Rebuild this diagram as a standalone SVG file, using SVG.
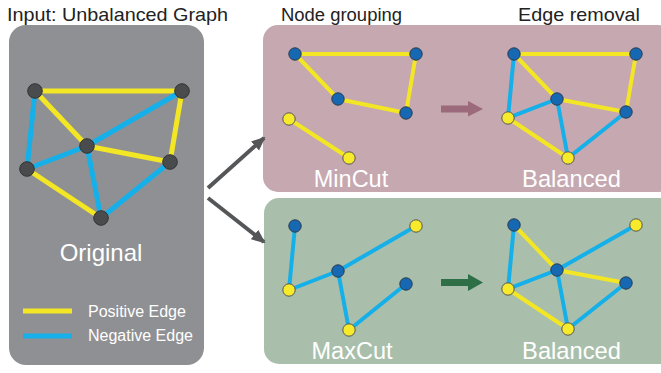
<svg xmlns="http://www.w3.org/2000/svg" width="661" height="373" viewBox="0 0 661 373">
<defs>
<style>
.t{font-family:"Liberation Sans",Arial,sans-serif;fill:#222}
.w{font-family:"Liberation Sans",Arial,sans-serif;fill:#fff}
.py{stroke:#f3e624;stroke-width:4;stroke-linecap:round}
.ny{stroke:#15b0e9;stroke-width:4;stroke-linecap:round}
.py5{stroke:#f3e624;stroke-width:5}
.ny5{stroke:#15b0e9;stroke-width:5}
.og{fill:#4a4b4d;stroke:#333;stroke-width:1}
.nb{fill:#1668b2;stroke:#2b3a4a;stroke-width:1}
.nyl{fill:#f6ea2a;stroke:#555;stroke-width:1}
</style>
<marker id="ah" markerUnits="userSpaceOnUse" markerWidth="14" markerHeight="14" viewBox="0 0 14 14" refX="12" refY="7" orient="auto">
<path d="M0,1 L14,7 L0,13 Z" fill="#555658"/>
</marker>
</defs>
<rect width="661" height="373" fill="#fff"/>

<g id="titles">
<text class="t" x="7" y="21" font-size="18.5" textLength="221" lengthAdjust="spacingAndGlyphs">Input: Unbalanced Graph</text>
<text class="t" x="281" y="21" font-size="17.5" textLength="121" lengthAdjust="spacingAndGlyphs">Node grouping</text>
<text class="t" x="518" y="21" font-size="18.5" textLength="122" lengthAdjust="spacingAndGlyphs">Edge removal</text>
</g>

<g id="panel-original">
<rect x="9" y="25" width="195" height="340" rx="17" fill="#8f9093"/>
<g>
<line class="py5" x1="35" y1="91" x2="182" y2="91"/>
<line class="py5" x1="35" y1="91" x2="87" y2="146"/>
<line class="ny5" x1="35" y1="91" x2="27" y2="169"/>
<line class="ny5" x1="182" y1="91" x2="87" y2="146"/>
<line class="py5" x1="182" y1="91" x2="170" y2="162"/>
<line class="py5" x1="87" y1="146" x2="170" y2="162"/>
<line class="ny5" x1="87" y1="146" x2="27" y2="169"/>
<line class="ny5" x1="87" y1="146" x2="101" y2="218"/>
<line class="py5" x1="27" y1="169" x2="101" y2="218"/>
<line class="ny5" x1="170" y1="162" x2="101" y2="218"/>
</g>
<circle class="og" cx="35" cy="91" r="7.3"/>
<circle class="og" cx="182" cy="91" r="7.3"/>
<circle class="og" cx="87" cy="146" r="7.3"/>
<circle class="og" cx="170" cy="162" r="7.3"/>
<circle class="og" cx="27" cy="169" r="7.3"/>
<circle class="og" cx="101" cy="218" r="7.3"/>
<text class="w" x="101" y="261" font-size="24" text-anchor="middle">Original</text>
<line class="py5" x1="23" y1="311" x2="72" y2="311"/>
<line class="ny5" x1="23" y1="336" x2="72" y2="336"/>
<text class="w" x="88" y="317" font-size="16">Positive Edge</text>
<text class="w" x="88" y="341" font-size="16">Negative Edge</text>
</g>

<g id="panel-mincut">
<rect x="263" y="25" width="410" height="167" rx="15" fill="#c5a8b0"/>
<line class="py" x1="295" y1="54" x2="416" y2="54"/>
<line class="py" x1="295" y1="54" x2="338" y2="99"/>
<line class="py" x1="338" y1="99" x2="406" y2="113"/>
<line class="py" x1="416" y1="54" x2="406" y2="113"/>
<line class="py" x1="289" y1="119" x2="349" y2="158"/>
<circle class="nb" cx="295" cy="54" r="6.2"/>
<circle class="nb" cx="416" cy="54" r="6.2"/>
<circle class="nb" cx="338" cy="99" r="6.2"/>
<circle class="nb" cx="406" cy="113" r="6.2"/>
<circle class="nyl" cx="289" cy="119" r="6.2"/>
<circle class="nyl" cx="349" cy="158" r="6.2"/>
<text class="w" x="351" y="187" font-size="23.5" text-anchor="middle">MinCut</text>
<path d="M441,105.5 H468 V101 L483,109 L468,116.5 V112.5 H441 Z" fill="#9c6a7b"/>
</g>

<g id="panel-mincut-balanced">
<line class="py" x1="514" y1="54" x2="636" y2="54"/>
<line class="py" x1="514" y1="54" x2="557" y2="99"/>
<line class="ny" x1="514" y1="54" x2="508" y2="118"/>
<line class="ny" x1="557" y1="99" x2="508" y2="118"/>
<line class="py" x1="557" y1="99" x2="626" y2="112"/>
<line class="py" x1="636" y1="54" x2="626" y2="112"/>
<line class="ny" x1="557" y1="99" x2="568" y2="158"/>
<line class="py" x1="508" y1="118" x2="568" y2="158"/>
<line class="ny" x1="626" y1="112" x2="568" y2="158"/>
<circle class="nb" cx="514" cy="54" r="6.2"/>
<circle class="nb" cx="636" cy="54" r="6.2"/>
<circle class="nb" cx="557" cy="99" r="6.2"/>
<circle class="nb" cx="626" cy="112" r="6.2"/>
<circle class="nyl" cx="508" cy="118" r="6.2"/>
<circle class="nyl" cx="568" cy="158" r="6.2"/>
<text class="w" x="571.5" y="187" font-size="23.7" text-anchor="middle">Balanced</text>
</g>

<g id="panel-maxcut">
<rect x="264" y="198" width="410" height="166" rx="15" fill="#a9bfab"/>
<line class="ny" x1="295" y1="226" x2="289" y2="290"/>
<line class="ny" x1="289" y1="290" x2="338" y2="271"/>
<line class="ny" x1="338" y1="271" x2="416" y2="226"/>
<line class="ny" x1="338" y1="271" x2="349" y2="330"/>
<line class="ny" x1="349" y1="330" x2="406" y2="284"/>
<circle class="nb" cx="295" cy="226" r="6.2"/>
<circle class="nyl" cx="416" cy="226" r="6.2"/>
<circle class="nb" cx="338" cy="271" r="6.2"/>
<circle class="nb" cx="406" cy="284" r="6.2"/>
<circle class="nyl" cx="289" cy="290" r="6.2"/>
<circle class="nyl" cx="349" cy="330" r="6.2"/>
<text class="w" x="352" y="359" font-size="23.5" text-anchor="middle">MaxCut</text>
<path d="M441,279 H468 V274 L483,282.5 L468,291 V286 H441 Z" fill="#2e6f48"/>
</g>

<g id="panel-maxcut-balanced">
<line class="ny" x1="514" y1="225" x2="508" y2="289"/>
<line class="py" x1="514" y1="225" x2="557" y2="270"/>
<line class="ny" x1="557" y1="270" x2="636" y2="225"/>
<line class="ny" x1="557" y1="270" x2="508" y2="289"/>
<line class="py" x1="557" y1="270" x2="626" y2="283"/>
<line class="ny" x1="557" y1="270" x2="568" y2="329"/>
<line class="py" x1="508" y1="289" x2="568" y2="329"/>
<line class="ny" x1="626" y1="283" x2="568" y2="329"/>
<circle class="nb" cx="514" cy="225" r="6.2"/>
<circle class="nyl" cx="636" cy="225" r="6.2"/>
<circle class="nb" cx="557" cy="270" r="6.2"/>
<circle class="nb" cx="626" cy="283" r="6.2"/>
<circle class="nyl" cx="508" cy="289" r="6.2"/>
<circle class="nyl" cx="568" cy="329" r="6.2"/>
<text class="w" x="571.5" y="359" font-size="23.7" text-anchor="middle">Balanced</text>
</g>

<g id="connectors" stroke="#555658" stroke-width="4" fill="none">
<line x1="208" y1="188" x2="264" y2="138" marker-end="url(#ah)"/>
<line x1="208" y1="198" x2="264" y2="242" marker-end="url(#ah)"/>
</g>
</svg>
